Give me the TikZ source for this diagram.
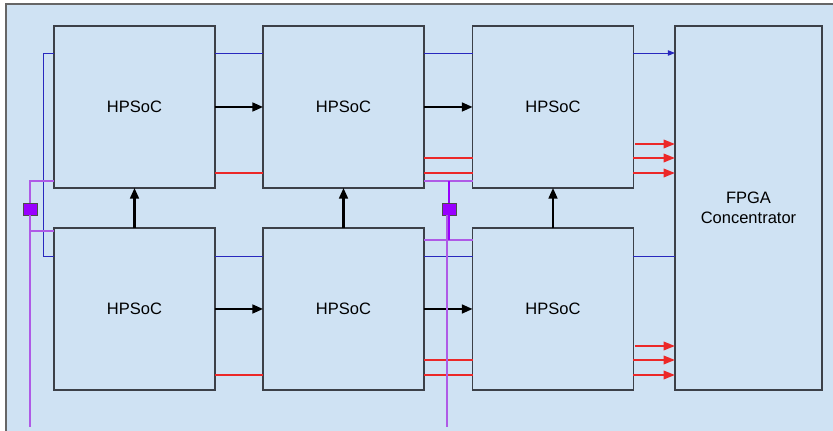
\documentclass[tikz,border=0pt]{standalone}
\usepackage{fontspec}
\setmainfont{Liberation Sans}
\usetikzlibrary{arrows.meta}

\definecolor{bgblue}{RGB}{207,226,243}
\definecolor{boxline}{RGB}{60,64,72}
\definecolor{busblue}{RGB}{40,40,190}
\definecolor{busred}{RGB}{236,40,40}
\definecolor{buspurple}{RGB}{175,90,230}
\definecolor{sqpurple}{RGB}{153,0,255}

\tikzset{
  soc/.style={draw=boxline, line width=0.8pt, fill=bgblue, minimum width=3.22cm,
    minimum height=3.24cm, inner sep=0pt, outer sep=0pt},
  blk/.style={line width=1.15pt, -{Triangle[length=6pt, width=5pt]}},
  blu/.style={busblue, line width=0.55pt},
  rd/.style={busred, line width=1.2pt},
  rdarrow/.style={rd, -{Triangle[length=6.5pt, width=4.8pt]}},
  pur/.style={buspurple, line width=0.6pt},
  sq/.style={draw=black!70, line width=0.5pt, fill=sqpurple, minimum width=0.28cm,
    minimum height=0.24cm, inner sep=0pt, outer sep=0pt}
}

\begin{document}
\begin{tikzpicture}[x=0.02cm, y=-0.02cm, font=\fontsize{9.4}{11.5}\selectfont]
    \useasboundingbox (0,0) rectangle (833,431);

    % 背景和边框
    \fill[bgblue] (6,4) rectangle (833,431);
    \draw[black!60, line width=0.8pt] (833,4) -- (6,4) -- (6,431);

    % 六个 HPSoC 和 FPGA
    \node[soc] (b11) at (134.5,107) {HPSoC};
    \node[soc] (b12) at (343.5,107) {HPSoC};
    \node[soc] (b13) at (553,107) {HPSoC};
    \node[soc] (b21) at (134.5,309) {HPSoC};
    \node[soc] (b22) at (343.5,309) {HPSoC};
    \node[soc] (b23) at (553,309) {HPSoC};
    \node[soc, minimum width=2.94cm, minimum height=7.28cm, align=center]
        (fpga) at (748.5,208) {FPGA\\Concentrator};

    % 紫色小方块
    \node[sq] (sq1) at (30,209) {};
    \node[sq] (sq2) at (449,209) {};

    % 蓝色线
    \draw[blu] (b11.west |- 0,53) -- (43,53) -- (43,256) -- (b21.west |- 0,256);
    \draw[blu] (b11.east |- 0,53) -- (b12.west |- 0,53);
    \draw[blu] (b12.east |- 0,53) -- (b13.west |- 0,53);
    \draw[blu, -{Triangle[length=4pt, width=3pt]}] (b13.east |- 0,53) -- (fpga.west |- 0,53);
    \draw[blu] (b21.east |- 0,256) -- (b22.west |- 0,256);
    \draw[blu] (b22.east |- 0,256) -- (b23.west |- 0,256);
    \draw[blu] (b23.east |- 0,256) -- (fpga.west |- 0,256);

    % 黑色箭头
    \draw[blk] (b11.east) -- (b12.west);
    \draw[blk] (b12.east) -- (b13.west);
    \draw[blk] (b21.east) -- (b22.west);
    \draw[blk] (b22.east) -- (b23.west);
    \draw[blk] (b21.north) -- (b11.south);
    \draw[blk] (b22.north) -- (b12.south);
    \draw[blk] (b23.north) -- (b13.south);

    % 红色线
    \draw[rd] (b11.east |- 0,173) -- (b12.west |- 0,173);
    \draw[rd] (b21.east |- 0,375) -- (b22.west |- 0,375);
    \foreach \y in {158,173} {
        \draw[rd] (b12.east |- 0,\y) -- (b13.west |- 0,\y);
        \draw[rd] (b22.east |- 0,\y+202) -- (b23.west |- 0,\y+202);
    }
    \draw[rdarrow] ([xshift=0.04cm]b13.east |- 0,144) -- (fpga.west |- 0,144);
    \draw[rdarrow] ([xshift=0.04cm]b23.east |- 0,346) -- (fpga.west |- 0,346);
    \foreach \y in {158,173} {
        \draw[rdarrow] (b13.east |- 0,\y) -- (fpga.west |- 0,\y);
        \draw[rdarrow] (b23.east |- 0,\y+202) -- (fpga.west |- 0,\y+202);
    }

    % 紫色线
    \draw[pur] (sq1.north) -- (sq1.north |- 0,181) -- (b11.west |- 0,181);
    \draw[pur] (sq1.south) -- (sq1.south |- 0,427);
    \draw[pur] (sq1.south |- 0,231) -- (b21.west |- 0,231);
    \draw[pur] (b12.east |- 0,181) -- (b13.west |- 0,181);
    \draw[pur] (b22.east |- 0,240) -- (b23.west |- 0,240);
    \draw[sqpurple, line width=0.9pt] (sq2.north) -- (sq2.north |- 0,181);
    \draw[sqpurple, line width=0.9pt] (sq2.south) -- (sq2.south |- 0,240);
    \draw[pur] ([xshift=-0.04cm]sq2.south) -- ([xshift=-0.04cm]sq2.south |- 0,427);
\end{tikzpicture}
\end{document}
